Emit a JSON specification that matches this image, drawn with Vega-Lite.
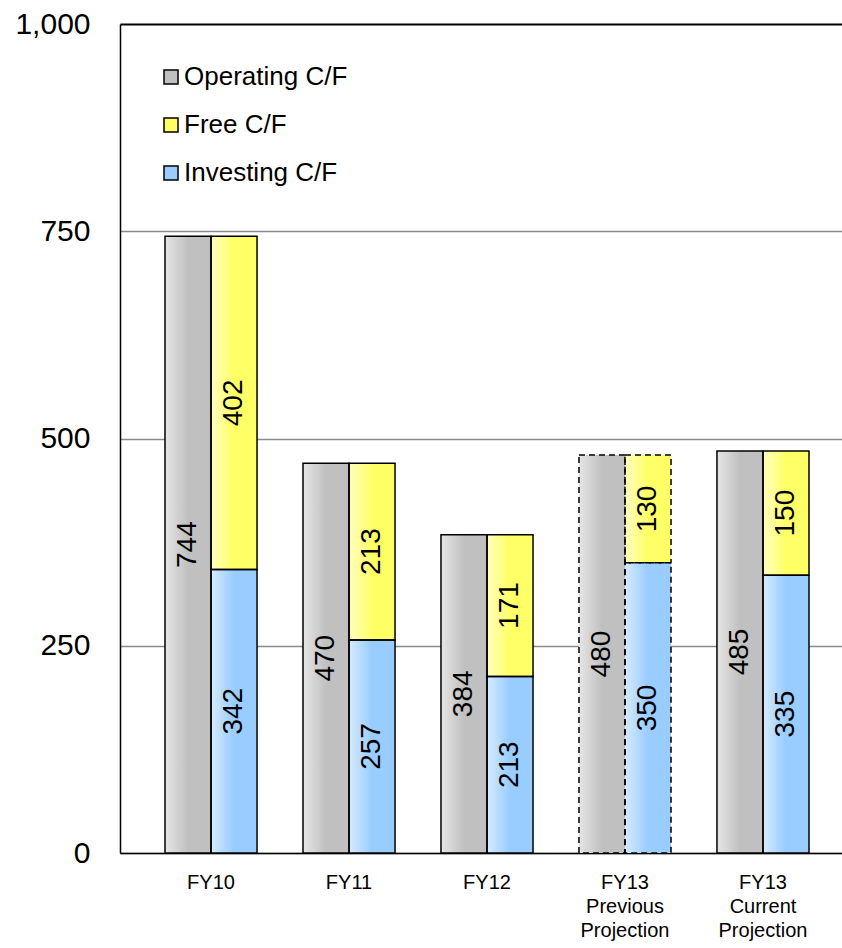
{
  "$schema": "https://vega.github.io/schema/vega-lite/v6.json",
  "width": 722,
  "height": 829,
  "autosize": {"type": "none"},
  "padding": {"left": 120, "top": 24, "right": 0, "bottom": 95},
  "background": "white",
  "config": {"view": {"stroke": null}, "font": "Liberation Sans"},
  "data": {"values": [
    {"cat": "FY10", "series": "Operating C/F", "value": 744, "pos": "a", "ord": 0, "dash": "solid"},
    {"cat": "FY10", "series": "Investing C/F", "value": 342, "pos": "b", "ord": 1, "dash": "solid"},
    {"cat": "FY10", "series": "Free C/F", "value": 402, "pos": "b", "ord": 2, "dash": "solid"},
    {"cat": "FY11", "series": "Operating C/F", "value": 470, "pos": "a", "ord": 0, "dash": "solid"},
    {"cat": "FY11", "series": "Investing C/F", "value": 257, "pos": "b", "ord": 1, "dash": "solid"},
    {"cat": "FY11", "series": "Free C/F", "value": 213, "pos": "b", "ord": 2, "dash": "solid"},
    {"cat": "FY12", "series": "Operating C/F", "value": 384, "pos": "a", "ord": 0, "dash": "solid"},
    {"cat": "FY12", "series": "Investing C/F", "value": 213, "pos": "b", "ord": 1, "dash": "solid"},
    {"cat": "FY12", "series": "Free C/F", "value": 171, "pos": "b", "ord": 2, "dash": "solid"},
    {"cat": "FY13|Previous|Projection", "series": "Operating C/F", "value": 480, "pos": "a", "ord": 0, "dash": "dashed"},
    {"cat": "FY13|Previous|Projection", "series": "Investing C/F", "value": 350, "pos": "b", "ord": 1, "dash": "dashed"},
    {"cat": "FY13|Previous|Projection", "series": "Free C/F", "value": 130, "pos": "b", "ord": 2, "dash": "dashed"},
    {"cat": "FY13|Current|Projection", "series": "Operating C/F", "value": 485, "pos": "a", "ord": 0, "dash": "solid"},
    {"cat": "FY13|Current|Projection", "series": "Investing C/F", "value": 335, "pos": "b", "ord": 1, "dash": "solid"},
    {"cat": "FY13|Current|Projection", "series": "Free C/F", "value": 150, "pos": "b", "ord": 2, "dash": "solid"}
  ]},
  "transform": [
    {"stack": "value", "groupby": ["cat", "pos"], "sort": [{"field": "ord", "order": "ascending"}], "as": ["y0", "y1"]},
    {"calculate": "(datum.y0 + datum.y1) / 2", "as": "ymid"}
  ],
  "encoding": {
    "x": {
      "field": "cat", "type": "nominal", "sort": null,
      "scale": {"paddingInner": 0.333, "paddingOuter": 0.2826, "align": 0.577},
      "axis": {
        "title": null, "labelAngle": 0, "ticks": false,
        "domainColor": "black", "domainWidth": 1.5,
        "labelExpr": "split(datum.label, '|')",
        "labelFont": "Liberation Sans", "labelFontSize": 20, "labelLineHeight": 24,
        "labelColor": "black", "labelPadding": 19, "labelBaseline": "top"
      }
    },
    "xOffset": {"field": "pos", "type": "nominal", "scale": {"paddingInner": 0, "paddingOuter": 0}},
    "y": {
      "field": "y1", "type": "quantitative",
      "scale": {"domain": [0, 1000]},
      "axis": {
        "title": null, "values": [0, 250, 500, 750, 1000], "format": ",d",
        "ticks": false, "labelPadding": 30, "labelFontSize": 30, "labelColor": "black",
        "domainColor": "black", "domainWidth": 1.5,
        "grid": true,
        "gridColor": {"condition": {"test": "datum.value === 1000", "value": "black"}, "value": "#8c8c8c"},
        "gridWidth": {"condition": {"test": "datum.value === 1000", "value": 2}, "value": 1.5}
      }
    },
    "y2": {"field": "y0"}
  },
  "layer": [
    {
      "mark": {"type": "bar", "strokeWidth": 0},
      "encoding": {
        "fill": {
          "field": "series", "type": "nominal",
          "scale": {
            "domain": ["Operating C/F", "Free C/F", "Investing C/F"],
            "range": ["#c0c0c0", "#ffff66", "#99ccff"]
          },
          "legend": {
            "title": null, "orient": "none", "legendX": 38, "legendY": 40,
            "symbolType": "square", "symbolSize": 196, "symbolStrokeColor": "black", "symbolStrokeWidth": 1.5,
            "labelFontSize": 26, "labelColor": "black", "labelOffset": 0, "rowPadding": 22,
            "labelLimit": 400
          }
        }
      }
    },
    {
      "mark": {
        "type": "bar", "strokeWidth": 0,
        "fill": {"gradient": "linear", "x1": 0, "y1": 0, "x2": 1, "y2": 0, "stops": [
          {"offset": 0, "color": "rgba(255,255,255,0.6)"},
          {"offset": 0.5, "color": "rgba(255,255,255,0)"},
          {"offset": 1, "color": "rgba(255,255,255,0)"}
        ]}
      },
      "encoding": {}
    },
    {
      "mark": {"type": "bar", "fill": "transparent", "stroke": "black", "strokeWidth": 1.5},
      "encoding": {
        "strokeDash": {
          "field": "dash", "type": "nominal",
          "scale": {"domain": ["solid", "dashed"], "range": [[1, 0], [6, 4]]},
          "legend": null
        }
      }
    },
    {
      "mark": {"type": "text", "angle": 270, "font": "Liberation Sans", "fontSize": 28, "color": "black", "baseline": "middle", "align": "center"},
      "encoding": {
        "y": {"field": "ymid", "type": "quantitative"},
        "y2": null,
        "text": {"field": "value", "type": "quantitative"}
      }
    }
  ]
}
